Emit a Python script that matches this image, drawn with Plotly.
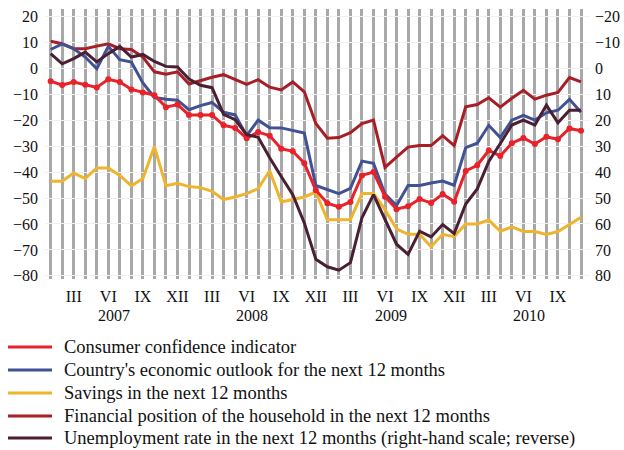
import plotly.graph_objects as go

months = list(range(47))  # Jan 2007 .. Nov 2010
roman = {2: "III", 5: "VI", 8: "IX", 11: "XII"}
tick_text = [roman.get(m % 12, "") for m in months]
years = ["2007", "2008", "2009", "2010"]

consumer_confidence = [-5, -6.5, -5.3, -6.4, -7.4, -4.3, -5.3, -8.2, -9.4, -10.4,
                       -15, -14, -18, -18, -18, -22, -23, -27, -24.6, -26,
                       -31, -32, -36.6, -47, -52, -53.4, -51.5, -41.3, -40, -49.5,
                       -54.3, -53.2, -50.4, -51.9, -48.5, -51.4, -39.6, -37.4, -31.7, -33.8,
                       -28.9, -26.9, -29.2, -26.4, -27.4, -23.2, -24.1]
economic_outlook = [7.2, 9.4, 7.5, 4.3, -0.2, 8.4, 3.3, 2.4, -5.7, -11.3,
                    -12, -12.3, -16, -14.4, -13.2, -17, -18, -26, -20, -22.9,
                    -23, -23.9, -25, -45.2, -46.8, -48.3, -46.3, -35.8, -36.6, -48.5,
                    -52.9, -45.2, -45.2, -44.2, -43.5, -45.1, -30.6, -28.9, -22, -26.7,
                    -20, -18.2, -20, -17.2, -16.2, -12, -17]
savings = [-43.5, -43.5, -40.4, -42.5, -38.4, -38.4, -41.3, -45.3, -42.5, -30.2,
           -45.3, -44.3, -45.6, -46, -47.4, -50.6, -49.6, -48.3, -46.4, -39.5,
           -51.5, -50.6, -49.6, -47.7, -58.4, -58.4, -58.3, -48.3, -48.3, -54.5,
           -61.9, -64, -64, -68.8, -64, -64.9, -60, -60, -58.5, -62.8,
           -61.1, -62.9, -62.9, -64, -62.9, -60.2, -57.4]
financial_position = [10.4, 9.4, 7.5, 7.5, 8.5, 9.4, 7.5, 7.2, 4.3, -1.4,
                      -2.3, -1.4, -6.1, -4.7, -3.5, -2.5, -4.4, -6.2, -4.4, -7.3,
                      -8.4, -5.3, -9.1, -21.3, -27, -26.7, -24.8, -21.3, -20, -38.2,
                      -34.3, -30.4, -29.8, -29.8, -26, -29.8, -14.9, -14, -11.4, -15,
                      -11.6, -8.5, -11.9, -10.4, -9.3, -3.6, -5.3]
unemployment = [-5.6, -1.7, -3.7, -6.2, -2.4, -5.6, -8.4, -4.3, -5.3, -2.6,
                -0.7, -0.5, 4.2, 6.6, 7.5, 17.8, 19.8, 25.6, 26.6, 34.5,
                41.7, 48.7, 59.6, 73.6, 76.5, 77.8, 74.9, 57.6, 48.7, 58.2,
                67.8, 71.7, 62.8, 65, 60.2, 63.7, 52.3, 46.5, 35.9, 29,
                21.9, 20, 21.9, 14.2, 21, 16.2, 16.2]

left_ticks = list(range(-80, 30, 10))
right_ticks = list(range(-20, 90, 10))

def fmt(v):
    return ("\u2212" + str(-v)) if v < 0 else str(v)

names = ["Consumer confidence indicator",
         "Country's economic outlook for the next 12 months",
         "Savings in the next 12 months",
         "Financial position of the household in the next 12 months",
         "Unemployment rate in the next 12 months (right-hand scale; reverse)"]
colors = ["#e8212a", "#405294", "#eeb42c", "#a81e27", "#4a1f33"]

FONT = "Liberation Serif, Times New Roman, serif"

fig = go.Figure()
fig.add_trace(go.Scatter(x=months, y=unemployment, yaxis="y2", mode="lines",
                         line=dict(color=colors[4], width=3), name=names[4]))
fig.add_trace(go.Scatter(x=months, y=financial_position, mode="lines",
                         line=dict(color=colors[3], width=3), name=names[3]))
fig.add_trace(go.Scatter(x=months, y=savings, mode="lines",
                         line=dict(color=colors[2], width=3), name=names[2]))
fig.add_trace(go.Scatter(x=months, y=economic_outlook, mode="lines",
                         line=dict(color=colors[1], width=3), name=names[1]))
fig.add_trace(go.Scatter(x=months, y=consumer_confidence, mode="lines+markers",
                         line=dict(color=colors[0], width=3),
                         marker=dict(size=6, color=colors[0]), name=names[0]))

# plot area geometry (pixels)
L, R, T, B = 45, 590, 9, 279
W, H = R - L, B - T

def px_x(p):
    return (p - L) / W

def px_y(p):
    return (B - p) / H

shapes = []
annotations = []
leg_y = [347, 370, 393, 416, 438]
for i, (nm, col) in enumerate(zip(names, colors)):
    shapes.append(dict(type="line", xref="paper", yref="paper",
                       x0=px_x(8), x1=px_x(52), y0=px_y(leg_y[i]), y1=px_y(leg_y[i]),
                       line=dict(color=col, width=3)))
    annotations.append(dict(text=nm, xref="paper", yref="paper",
                            x=px_x(62), y=px_y(leg_y[i]), xanchor="left", yanchor="middle",
                            showarrow=False, font=dict(size=18.5, color="#111", family=FONT)))
for k, yr in enumerate(years):
    annotations.append(dict(text=yr, xref="x", yref="paper", x=12 * k + 5.5,
                            y=px_y(315), xanchor="center", yanchor="middle",
                            showarrow=False, font=dict(size=16, color="#111", family=FONT)))

fig.update_layout(
    width=624, height=450,
    margin=dict(l=L, r=624 - R, t=T, b=450 - B, autoexpand=False),
    plot_bgcolor="white", paper_bgcolor="white",
    showlegend=False,
    font=dict(family=FONT, size=16, color="#111"),
    xaxis=dict(range=[-0.49, 46.78], tickmode="array", tickvals=months, ticktext=tick_text,
               showgrid=True, gridcolor="#a8a8a8", gridwidth=3, zeroline=False,
               showline=False, ticks="", ticklabelstandoff=6),
    yaxis=dict(range=[-81.2, 22.8], tickmode="array", tickvals=left_ticks,
               ticktext=[fmt(v) for v in left_ticks], showgrid=True, gridcolor="#f1f1f1",
               gridwidth=1, zeroline=False, showline=False, ticks="", ticklabelstandoff=6),
    yaxis2=dict(range=[81.2, -22.8], overlaying="y", side="right", tickmode="array",
                tickvals=right_ticks, ticktext=[fmt(v) for v in right_ticks],
                showgrid=False, zeroline=False, showline=False, ticks="", ticklabelstandoff=4),
    shapes=shapes, annotations=annotations,
)

fig.write_html("out.html", config={"displayModeBar": False},
               post_script="document.body.style.margin='0';")
